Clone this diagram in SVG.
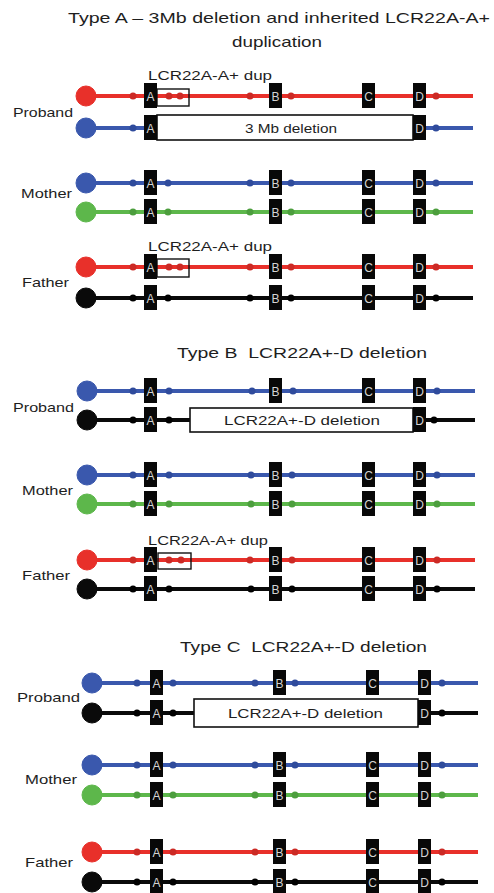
<svg xmlns="http://www.w3.org/2000/svg" width="494" height="893" viewBox="0 0 494 893">
<style>
.t{font-family:"Liberation Sans",Arial,sans-serif;fill:#1e1e1e}
.ti{font-size:15px}
.lb{font-size:13px}
.bl{font-family:"Liberation Sans",Arial,sans-serif;font-size:12px;fill:#d4d4d4;text-anchor:middle}
.bx{fill:#080808}
.r{stroke:#e8302a;fill:#e8302a}
.b{stroke:#3a58ad;fill:#3a58ad}
.g{stroke:#5db74b;fill:#5db74b}
.k{stroke:#0a0a0a;fill:#0a0a0a}
.ln{stroke-width:4;fill:none}
.rd{fill:#cc2a25}.bd{fill:#2f4b9c}.gd{fill:#4c9e3d}.kd{fill:#000}
.del{fill:#fff;stroke:#111;stroke-width:1.6}
.dup{fill:none;stroke:#111;stroke-width:1.4}
</style>
<defs>
<g id="boxesAB">
<rect class="bx" x="144" y="-13" width="13" height="25"/><text class="bl" x="150.5" y="4.5">A</text>
<rect class="bx" x="269" y="-13" width="13" height="25"/><text class="bl" x="275.5" y="4.5">B</text>
<rect class="bx" x="362" y="-13" width="13" height="25"/><text class="bl" x="368.5" y="4.5">C</text>
<rect class="bx" x="413" y="-13" width="13" height="25"/><text class="bl" x="419.5" y="4.5">D</text>
</g>
<g id="boxesC">
<rect class="bx" x="150" y="-13" width="13" height="25"/><text class="bl" x="156.5" y="4.5">A</text>
<rect class="bx" x="273" y="-13" width="13" height="25"/><text class="bl" x="279.5" y="4.5">B</text>
<rect class="bx" x="366" y="-13" width="13" height="25"/><text class="bl" x="372.5" y="4.5">C</text>
<rect class="bx" x="418" y="-13" width="13" height="25"/><text class="bl" x="424.5" y="4.5">D</text>
</g>
</defs>

<g id="titles">
<text class="t ti" x="68" y="23" textLength="422" lengthAdjust="spacingAndGlyphs">Type A – 3Mb deletion and inherited LCR22A-A+</text>
<text class="t ti" x="232" y="47" textLength="90" lengthAdjust="spacingAndGlyphs">duplication</text>
<text class="t ti" x="177" y="358" textLength="250" lengthAdjust="spacingAndGlyphs" xml:space="preserve">Type B  LCR22A+-D deletion</text>
<text class="t ti" x="180" y="652" textLength="247" lengthAdjust="spacingAndGlyphs" xml:space="preserve">Type C  LCR22A+-D deletion</text>
</g>

<g id="labels">
<text class="t lb" x="13" y="117" textLength="60" lengthAdjust="spacingAndGlyphs">Proband</text>
<text class="t lb" x="21" y="198" textLength="51" lengthAdjust="spacingAndGlyphs">Mother</text>
<text class="t lb" x="22" y="287" textLength="47" lengthAdjust="spacingAndGlyphs">Father</text>
<text class="t lb" x="13" y="412" textLength="61" lengthAdjust="spacingAndGlyphs">Proband</text>
<text class="t lb" x="22" y="495" textLength="51" lengthAdjust="spacingAndGlyphs">Mother</text>
<text class="t lb" x="22" y="580" textLength="48" lengthAdjust="spacingAndGlyphs">Father</text>
<text class="t lb" x="17" y="702" textLength="63" lengthAdjust="spacingAndGlyphs">Proband</text>
<text class="t lb" x="25" y="784" textLength="52" lengthAdjust="spacingAndGlyphs">Mother</text>
<text class="t lb" x="25" y="867" textLength="48" lengthAdjust="spacingAndGlyphs">Father</text>
</g>

<g id="connectors">
<line class="ln r" x1="86" y1="96" x2="473" y2="96"/>
<line class="ln b" x1="86" y1="128" x2="473" y2="128"/>
<line class="ln b" x1="86" y1="183" x2="473" y2="183"/>
<line class="ln g" x1="86" y1="212" x2="473" y2="212"/>
<line class="ln r" x1="86" y1="267" x2="473" y2="267"/>
<line class="ln k" x1="86" y1="298" x2="473" y2="298"/>
<line class="ln b" x1="86" y1="391" x2="475" y2="391"/>
<line class="ln k" x1="86" y1="420" x2="475" y2="420"/>
<line class="ln b" x1="86" y1="475" x2="475" y2="475"/>
<line class="ln g" x1="86" y1="504" x2="475" y2="504"/>
<line class="ln r" x1="86" y1="560" x2="475" y2="560"/>
<line class="ln k" x1="86" y1="589" x2="475" y2="589"/>
<line class="ln b" x1="91" y1="683" x2="478" y2="683"/>
<line class="ln k" x1="91" y1="713" x2="478" y2="713"/>
<line class="ln b" x1="91" y1="765" x2="478" y2="765"/>
<line class="ln g" x1="91" y1="795" x2="478" y2="795"/>
<line class="ln r" x1="91" y1="852" x2="478" y2="852"/>
<line class="ln k" x1="91" y1="882" x2="478" y2="882"/>
</g>

<g id="A-proband-1" transform="translate(0,96)">
<circle class="r" cx="86" cy="0" r="10"/>
<circle class="rd" cx="133" cy="0" r="3.5"/><circle class="rd" cx="250" cy="0" r="3.5"/><circle class="rd" cx="291" cy="0" r="3.5"/><circle class="rd" cx="436" cy="0" r="3.5"/>
<circle class="rd" cx="169" cy="0" r="3.5"/><circle class="rd" cx="180" cy="0" r="3.5"/>
<rect class="dup" x="157" y="-7" width="32" height="17"/>
<use href="#boxesAB"/>
<text class="t lb" x="148" y="-16" textLength="124" lengthAdjust="spacingAndGlyphs">LCR22A-A+ dup</text>
</g>
<g id="A-proband-2" transform="translate(0,128)">
<circle class="b" cx="86" cy="0" r="10"/>
<circle class="bd" cx="133" cy="0" r="3.5"/><circle class="bd" cx="436" cy="0" r="3.5"/>
<rect class="del" x="157" y="-13" width="256" height="25"/>
<rect class="bx" x="144" y="-13" width="13" height="25"/><text class="bl" x="150.5" y="4.5">A</text>
<rect class="bx" x="413" y="-13" width="13" height="25"/><text class="bl" x="419.5" y="4.5">D</text>
<text class="t lb" x="245" y="5" textLength="92" lengthAdjust="spacingAndGlyphs">3 Mb deletion</text>
</g>
<g id="A-mother-1" transform="translate(0,183)">
<circle class="b" cx="86" cy="0" r="10"/>
<circle class="bd" cx="133" cy="0" r="3.5"/><circle class="bd" cx="168" cy="0" r="3.5"/><circle class="bd" cx="250" cy="0" r="3.5"/><circle class="bd" cx="291" cy="0" r="3.5"/><circle class="bd" cx="436" cy="0" r="3.5"/>
<use href="#boxesAB"/>
</g>
<g id="A-mother-2" transform="translate(0,212)">
<circle class="g" cx="86" cy="0" r="10"/>
<circle class="gd" cx="133" cy="0" r="3.5"/><circle class="gd" cx="168" cy="0" r="3.5"/><circle class="gd" cx="250" cy="0" r="3.5"/><circle class="gd" cx="291" cy="0" r="3.5"/><circle class="gd" cx="436" cy="0" r="3.5"/>
<use href="#boxesAB"/>
</g>
<g id="A-father-1" transform="translate(0,267)">
<circle class="r" cx="86" cy="0" r="10"/>
<circle class="rd" cx="133" cy="0" r="3.5"/><circle class="rd" cx="250" cy="0" r="3.5"/><circle class="rd" cx="291" cy="0" r="3.5"/><circle class="rd" cx="436" cy="0" r="3.5"/>
<circle class="rd" cx="169" cy="0" r="3.5"/><circle class="rd" cx="180" cy="0" r="3.5"/>
<rect class="dup" x="157" y="-8" width="32" height="18"/>
<use href="#boxesAB"/>
<text class="t lb" x="148" y="-16" textLength="124" lengthAdjust="spacingAndGlyphs">LCR22A-A+ dup</text>
</g>
<g id="A-father-2" transform="translate(0,298)">
<circle class="k" cx="86" cy="0" r="10"/>
<circle class="kd" cx="133" cy="0" r="3.5"/><circle class="kd" cx="168" cy="0" r="3.5"/><circle class="kd" cx="250" cy="0" r="3.5"/><circle class="kd" cx="291" cy="0" r="3.5"/><circle class="kd" cx="436" cy="0" r="3.5"/>
<use href="#boxesAB"/>
</g>

<g id="B-proband-1" transform="translate(0,391)">
<circle class="b" cx="87" cy="0" r="10"/>
<circle class="bd" cx="133" cy="0" r="3.5"/><circle class="bd" cx="169" cy="0" r="3.5"/><circle class="bd" cx="252" cy="0" r="3.5"/><circle class="bd" cx="293" cy="0" r="3.5"/><circle class="bd" cx="437" cy="0" r="3.5"/>
<use href="#boxesAB"/>
</g>
<g id="B-proband-2" transform="translate(0,420)">
<circle class="k" cx="87" cy="0" r="10"/>
<circle class="kd" cx="133" cy="0" r="3.5"/><circle class="kd" cx="169" cy="0" r="3.5"/><circle class="kd" cx="434" cy="0" r="3.5"/>
<rect class="del" x="190" y="-12" width="223" height="24"/>
<rect class="bx" x="144" y="-13" width="13" height="25"/><text class="bl" x="150.5" y="4.5">A</text>
<rect class="bx" x="413" y="-13" width="13" height="25"/><text class="bl" x="419.5" y="4.5">D</text>
<text class="t lb" x="224" y="5" textLength="156" lengthAdjust="spacingAndGlyphs">LCR22A+-D deletion</text>
</g>
<g id="B-mother-1" transform="translate(0,475)">
<circle class="b" cx="87" cy="0" r="10"/>
<circle class="bd" cx="133" cy="0" r="3.5"/><circle class="bd" cx="169" cy="0" r="3.5"/><circle class="bd" cx="251" cy="0" r="3.5"/><circle class="bd" cx="292" cy="0" r="3.5"/><circle class="bd" cx="437" cy="0" r="3.5"/>
<use href="#boxesAB"/>
</g>
<g id="B-mother-2" transform="translate(0,504)">
<circle class="g" cx="87" cy="0" r="10"/>
<circle class="gd" cx="133" cy="0" r="3.5"/><circle class="gd" cx="169" cy="0" r="3.5"/><circle class="gd" cx="251" cy="0" r="3.5"/><circle class="gd" cx="292" cy="0" r="3.5"/><circle class="gd" cx="437" cy="0" r="3.5"/>
<use href="#boxesAB"/>
</g>
<g id="B-father-1" transform="translate(0,560)">
<circle class="r" cx="87" cy="0" r="10"/>
<circle class="rd" cx="133" cy="0" r="3.5"/><circle class="rd" cx="250" cy="0" r="3.5"/><circle class="rd" cx="292" cy="0" r="3.5"/><circle class="rd" cx="437" cy="0" r="3.5"/>
<circle class="rd" cx="169" cy="0" r="3.5"/><circle class="rd" cx="181" cy="0" r="3.5"/>
<rect class="dup" x="158" y="-7" width="33" height="16"/>
<use href="#boxesAB"/>
<text class="t lb" x="148" y="-15" textLength="120" lengthAdjust="spacingAndGlyphs">LCR22A-A+ dup</text>
</g>
<g id="B-father-2" transform="translate(0,589)">
<circle class="k" cx="87" cy="0" r="10"/>
<circle class="kd" cx="133" cy="0" r="3.5"/><circle class="kd" cx="169" cy="0" r="3.5"/><circle class="kd" cx="251" cy="0" r="3.5"/><circle class="kd" cx="292" cy="0" r="3.5"/><circle class="kd" cx="437" cy="0" r="3.5"/>
<use href="#boxesAB"/>
</g>

<g id="C-proband-1" transform="translate(0,683)">
<circle class="b" cx="92" cy="0" r="10"/>
<circle class="bd" cx="137" cy="0" r="3.5"/><circle class="bd" cx="173" cy="0" r="3.5"/><circle class="bd" cx="255" cy="0" r="3.5"/><circle class="bd" cx="295" cy="0" r="3.5"/><circle class="bd" cx="442" cy="0" r="3.5"/>
<use href="#boxesC"/>
</g>
<g id="C-proband-2" transform="translate(0,713)">
<circle class="k" cx="92" cy="0" r="10"/>
<circle class="kd" cx="137" cy="0" r="3.5"/><circle class="kd" cx="173" cy="0" r="3.5"/><circle class="kd" cx="442" cy="0" r="3.5"/>
<rect class="del" x="194" y="-14" width="224" height="28"/>
<rect class="bx" x="150" y="-13" width="13" height="25"/><text class="bl" x="156.5" y="4.5">A</text>
<rect class="bx" x="418" y="-13" width="13" height="25"/><text class="bl" x="424.5" y="4.5">D</text>
<text class="t lb" x="228" y="5" textLength="155" lengthAdjust="spacingAndGlyphs">LCR22A+-D deletion</text>
</g>
<g id="C-mother-1" transform="translate(0,765)">
<circle class="b" cx="92" cy="0" r="10"/>
<circle class="bd" cx="137" cy="0" r="3.5"/><circle class="bd" cx="173" cy="0" r="3.5"/><circle class="bd" cx="255" cy="0" r="3.5"/><circle class="bd" cx="295" cy="0" r="3.5"/><circle class="bd" cx="442" cy="0" r="3.5"/>
<use href="#boxesC"/>
</g>
<g id="C-mother-2" transform="translate(0,795)">
<circle class="g" cx="92" cy="0" r="10"/>
<circle class="gd" cx="137" cy="0" r="3.5"/><circle class="gd" cx="173" cy="0" r="3.5"/><circle class="gd" cx="255" cy="0" r="3.5"/><circle class="gd" cx="295" cy="0" r="3.5"/><circle class="gd" cx="442" cy="0" r="3.5"/>
<use href="#boxesC"/>
</g>
<g id="C-father-1" transform="translate(0,852)">
<circle class="r" cx="92" cy="0" r="10"/>
<circle class="rd" cx="137" cy="0" r="3.5"/><circle class="rd" cx="173" cy="0" r="3.5"/><circle class="rd" cx="255" cy="0" r="3.5"/><circle class="rd" cx="295" cy="0" r="3.5"/><circle class="rd" cx="442" cy="0" r="3.5"/>
<use href="#boxesC"/>
</g>
<g id="C-father-2" transform="translate(0,882)">
<circle class="k" cx="92" cy="0" r="10"/>
<circle class="kd" cx="137" cy="0" r="3.5"/><circle class="kd" cx="173" cy="0" r="3.5"/><circle class="kd" cx="255" cy="0" r="3.5"/><circle class="kd" cx="295" cy="0" r="3.5"/><circle class="kd" cx="442" cy="0" r="3.5"/>
<use href="#boxesC"/>
</g>
</svg>
